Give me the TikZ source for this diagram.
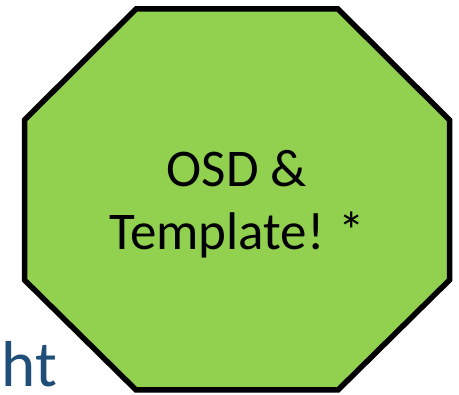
\documentclass[tikz,border=0pt]{standalone}
\usepackage{fontspec}
\setmainfont{Carlito}
\definecolor{octgreen}{HTML}{92D050}
\definecolor{titleblue}{HTML}{1F4E79}
\tikzset{
  octa/.style={draw=black, line width=5.5pt, fill=octgreen, line join=miter},
  bigtext/.style={font=\fontsize{53}{63}\selectfont, text=black, inner sep=0pt},
  cuttext/.style={font=\fontsize{65}{78}\selectfont, text=titleblue, inner sep=0pt}
}
\begin{document}
\begin{tikzpicture}[x=1pt,y=1pt]
\useasboundingbox (0,0) rectangle (459,395);
\node[cuttext, anchor=base east] (ht) at (57,8) {ht};
\draw[octa] (136,386) -- (338,386) -- (449.5,275) -- (449.5,115) -- (338,5) -- (136,5) -- (24.5,115) -- (24.5,275) -- cycle;
\node[bigtext, anchor=base] (l1) at (237,208) {OSD \&};
\node[bigtext, anchor=base] (l2) at (237,145) {Template!\kern-2pt{} *};
\end{tikzpicture}
\end{document}
